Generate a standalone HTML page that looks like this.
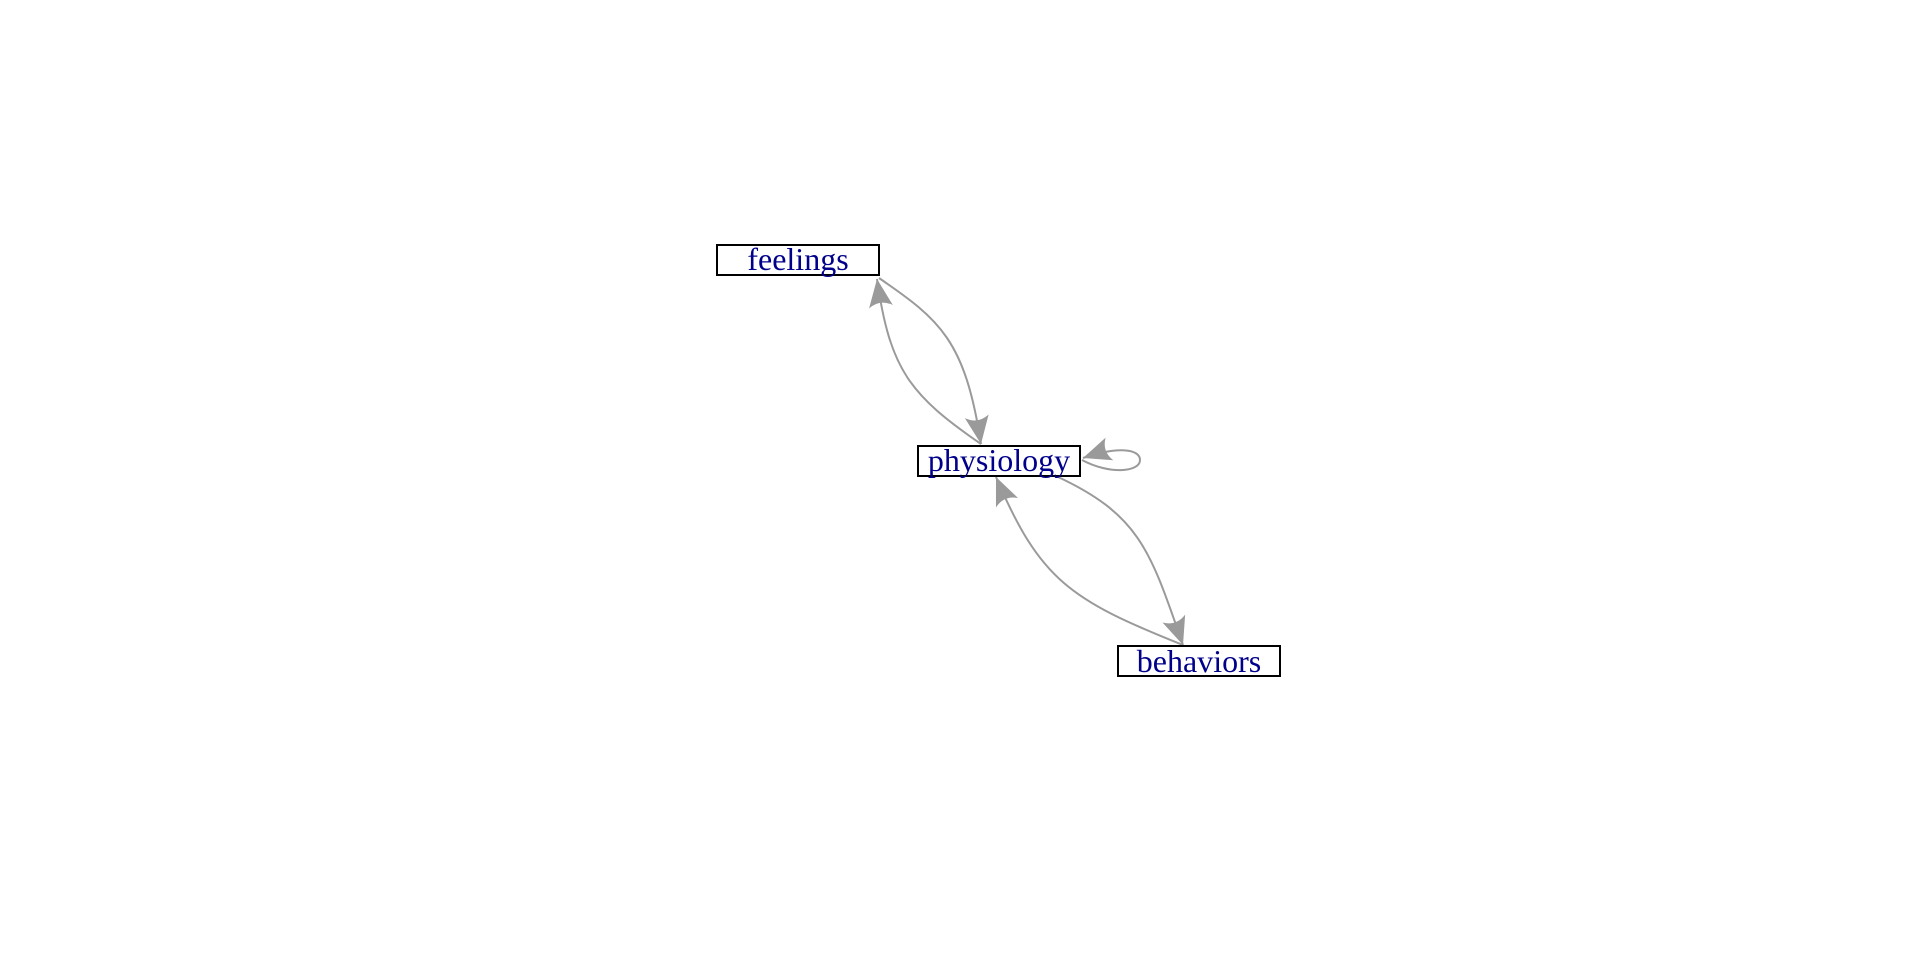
<!DOCTYPE html>
<html><head><meta charset="utf-8"><style>
html,body{margin:0;padding:0;background:#fff;}
svg{display:block;}
text{font-family:"Liberation Serif",serif;font-size:32px;fill:#00008B;}
</style></head><body>
<svg width="1920" height="960" viewBox="0 0 1920 960" xmlns="http://www.w3.org/2000/svg">
<defs>
<marker id="ah" markerUnits="userSpaceOnUse" markerWidth="30" markerHeight="26" refX="28" refY="13" orient="auto">
<path d="M0,1 Q14,7 28,13 Q14,19 0,25 Q8,13 0,1 Z" fill="#9a9a9a"/>
</marker>
</defs>
<g fill="none" stroke="#9a9a9a" stroke-width="2" marker-end="url(#ah)">
<path d="M879,278 C940,320 965,340 981,444"/>
<path d="M981,444 C910,395 890,370 877,279"/>
<path d="M1056,476 C1140,515 1150,550 1183,645"/>
<path d="M1183,645 C1070,600 1040,580 996,477"/>
<path d="M1082,460 C1110,475 1140,472 1140,460 C1140,449 1118,446 1083,458"/>
</g>
<g fill="#fff" stroke="#000" stroke-width="2">
<rect x="717" y="245" width="162" height="30"/>
<rect x="918" y="446" width="162" height="30"/>
<rect x="1118" y="646" width="162" height="30"/>
</g>
<text x="798" y="270" text-anchor="middle">feelings</text>
<text x="999" y="471" text-anchor="middle">physiology</text>
<text x="1199" y="672" text-anchor="middle">behaviors</text>
</svg>
</body></html>
